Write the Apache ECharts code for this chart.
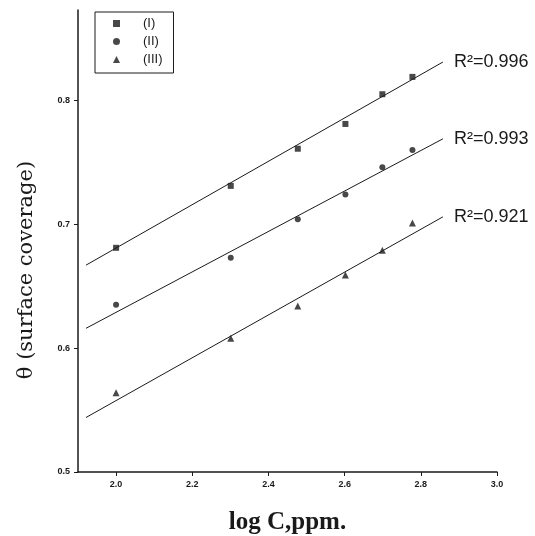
<!DOCTYPE html>
<html>
<head>
<meta charset="utf-8">
<script src="https://cdn.jsdelivr.net/npm/echarts@6/dist/echarts.min.js"></script>
<style>
  html, body { margin: 0; padding: 0; background: #fff; }
  #app { width: 535px; height: 536px; }
</style>
</head>
<body>
<div id="app"></div>
<script>
// log C values (100..600 ppm)
var logC = [2.0, 2.301, 2.477, 2.602, 2.699, 2.778];

// surface coverage
var thetaI = [0.681, 0.731, 0.761, 0.781, 0.805, 0.819];
var thetaII = [0.635, 0.673, 0.704, 0.724, 0.746, 0.760];
var thetaIII = [0.564, 0.608, 0.634, 0.659, 0.679, 0.701];

// fitted straight lines (start / end as drawn)
var fitI = [[1.921, 0.667], [2.858, 0.831]];
var fitII = [[1.921, 0.616], [2.858, 0.769]];
var fitIII = [[1.921, 0.544], [2.858, 0.706]];

// tick positions
var xTicks = [2.0, 2.2, 2.4, 2.6, 2.8, 3.0];
var yTicks = [0.5, 0.6, 0.7, 0.8];

var names = ['(I)', '(II)', '(III)'];
var r2 = ['R\u00b2=0.996', 'R\u00b2=0.993', 'R\u00b2=0.921'];

var ink = '#1a1a1a';

function pairs(ys) {
  return logC.map(function (x, i) { return [x, ys[i]]; });
}

function fitLine(pts, label) {
  return {
    type: 'line',
    data: pts,
    symbol: 'none',
    silent: true,
    lineStyle: { color: ink, width: 1 },
    endLabel: {
      show: true,
      formatter: label,
      color: ink,
      fontFamily: 'Liberation Sans',
      fontSize: 18,
      distance: 11
    },
    z: 1
  };
}

function dots(name, ys, symbol, size) {
  return {
    type: 'scatter',
    name: name,
    data: pairs(ys),
    symbol: symbol,
    symbolSize: size,
    itemStyle: { color: ink },
    z: 3
  };
}

var chart = echarts.init(document.getElementById('app'));

chart.setOption({
  animation: false,
  backgroundColor: '#fff',
  grid: { left: 78, right: 38, top: 10, bottom: 64, outerBoundsMode: 'none' },
  legend: {
    orient: 'vertical',
    left: 95,
    top: 12,
    padding: [5, 11, 7, 18],
    itemGap: 5,
    itemWidth: 7,
    itemHeight: 7,
    borderColor: ink,
    borderWidth: 1,
    textStyle: {
      color: ink,
      fontFamily: 'Liberation Sans',
      fontSize: 13,
      padding: [0, 0, 0, 18]
    },
    data: [
      { name: names[0], icon: 'rect' },
      { name: names[1], icon: 'circle' },
      { name: names[2], icon: 'triangle' }
    ]
  },
  xAxis: {
    type: 'value',
    min: 1.9,
    max: 3.0,
    name: 'log C,ppm.',
    nameLocation: 'middle',
    nameGap: 38,
    nameTextStyle: {
      color: ink,
      fontFamily: 'Liberation Serif',
      fontWeight: 'bold',
      fontSize: 25
    },
    axisLine: { lineStyle: { color: ink, width: 1.5 } },
    axisTick: {
      length: 4,
      lineStyle: { color: ink },
      customValues: xTicks
    },
    axisLabel: {
      color: ink,
      fontFamily: 'Liberation Sans',
      fontWeight: 'bold',
      fontSize: 9,
      margin: 8,
      customValues: xTicks,
      formatter: function (v) { return v.toFixed(1); }
    },
    splitLine: { show: false }
  },
  yAxis: {
    type: 'value',
    min: 0.5,
    max: 0.873,
    name: '\u03b8 (surface coverage)',
    nameLocation: 'middle',
    nameGap: 41,
    nameRotate: 90,
    nameTextStyle: {
      color: ink,
      fontFamily: 'DejaVu Serif',
      fontSize: 21,
      padding: [0, 0, 0, -58]
    },
    axisLine: { show: true, lineStyle: { color: ink, width: 1.5 } },
    axisTick: { show: true, length: 4, lineStyle: { color: ink }, customValues: yTicks },
    axisLabel: {
      color: ink,
      fontFamily: 'Liberation Sans',
      fontWeight: 'bold',
      fontSize: 9,
      margin: 8,
      customValues: yTicks,
      formatter: function (v) { return v.toFixed(1); }
    },
    splitLine: { show: false }
  },
  series: [
    fitLine(fitI, r2[0]),
    fitLine(fitII, r2[1]),
    fitLine(fitIII, r2[2]),
    dots(names[0], thetaI, 'rect', 6),
    dots(names[1], thetaII, 'circle', 6),
    dots(names[2], thetaIII, 'triangle', 7)
  ]
});
</script>
</body>
</html>
